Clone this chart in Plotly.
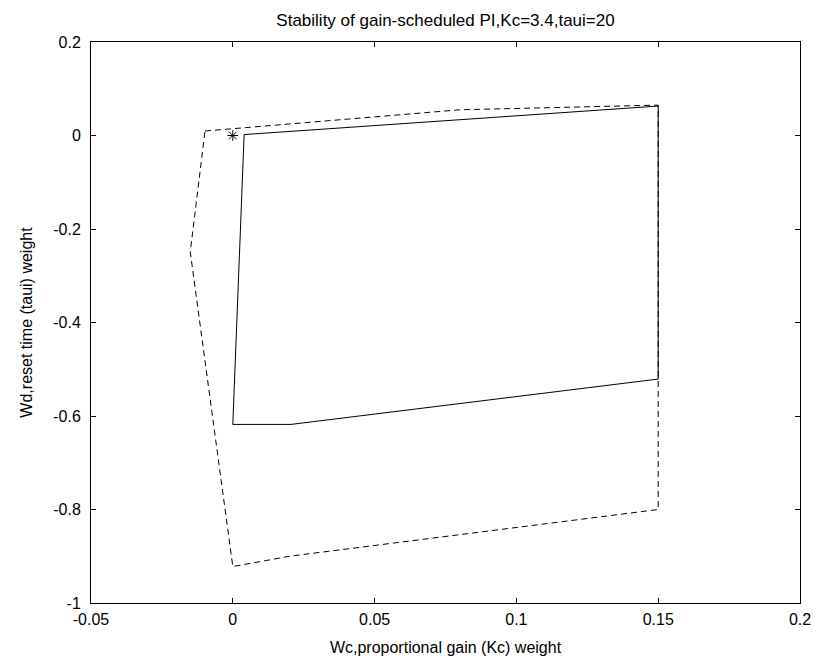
import plotly.graph_objects as go

# Solid boundary (gain-scheduled PI stability region)
solid_x = [0.004, 0.15, 0.15, 0.0205, 0.0, 0.004]
solid_y = [0.002, 0.063, -0.521, -0.618, -0.618, 0.002]

# Dashed boundary
dash_x = [-0.0098, 0.08, 0.15, 0.15, 0.02, 0.0, -0.015, -0.0098]
dash_y = [0.0096, 0.055, 0.065, -0.80, -0.90, -0.922, -0.249, 0.0096]

# Operating point
pt_x = [0.0]
pt_y = [0.0]

x_ticks = [-0.05, 0, 0.05, 0.1, 0.15, 0.2]
x_labels = ["-0.05", "0", "0.05", "0.1", "0.15", "0.2"]
y_ticks = [0.2, 0, -0.2, -0.4, -0.6, -0.8, -1]
y_labels = ["0.2", "0", "-0.2", "-0.4", "-0.6", "-0.8", "-1"]

fig = go.Figure()
fig.add_trace(go.Scatter(x=solid_x, y=solid_y, mode="lines",
                         line=dict(color="black", width=1), showlegend=False))
fig.add_trace(go.Scatter(x=dash_x, y=dash_y, mode="lines",
                         line=dict(color="black", width=1, dash="6px,4px"), showlegend=False))
fig.add_trace(go.Scatter(x=pt_x, y=pt_y, mode="markers",
                         marker=dict(symbol="asterisk-open", size=9, color="black",
                                     line=dict(color="black", width=1)),
                         showlegend=False))

FAM = "Liberation Sans, Arial, sans-serif"
font = dict(family=FAM, size=16, color="black")
axis_common = dict(showgrid=False, zeroline=False, showline=True, linecolor="black",
                   linewidth=1, mirror="ticks", ticks="inside", ticklen=5,
                   tickcolor="black", tickfont=font)

fig.update_layout(
    width=823, height=667,
    margin=dict(l=91, r=18, t=42, b=64),
    paper_bgcolor="white", plot_bgcolor="white",
    title=dict(text="Stability of gain-scheduled PI,Kc=3.4,taui=20",
               x=0.5, xanchor="center", xref="paper", y=1 - 20/667, yanchor="middle",
               font=dict(family=FAM, size=17, color="black")),
    xaxis=dict(range=[-0.05, 0.2], tickvals=x_ticks, ticktext=x_labels,
               ticklabelstandoff=2,
               title=dict(text="Wc,proportional gain (Kc) weight", font=font, standoff=14),
               **axis_common),
    yaxis=dict(range=[-1, 0.2], tickvals=y_ticks, ticktext=y_labels,
               ticklabelstandoff=6,
               title=dict(text="Wd,reset time (taui) weight", font=font, standoff=16),
               **axis_common),
)

fig.write_html("out.html")
